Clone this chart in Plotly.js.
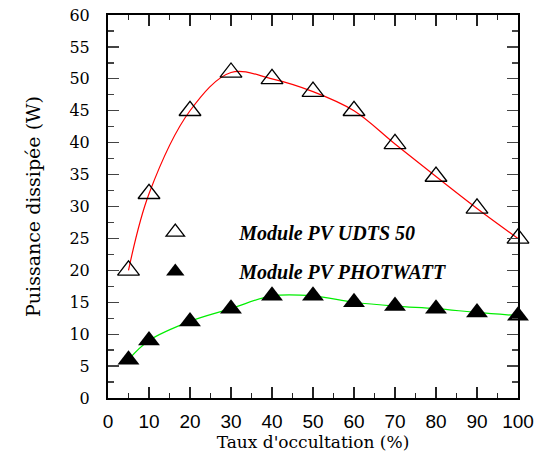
<!DOCTYPE html>
<html>
<head>
<meta charset="utf-8">
<script src="https://cdn.plot.ly/plotly-3.0.1.min.js"></script>
<style>
html,body{margin:0;padding:0;background:#fff;}
#chart{width:536px;height:458px;}
</style>
</head>
<body>
<div id="chart"></div>
<script>
const occultation = [5, 10, 20, 30, 40, 50, 60, 70, 80, 90, 100];
const udts50 = [20, 32, 45, 51, 50, 48, 45, 39.8, 34.7, 29.7, 25];
const photwatt = [6, 9, 12, 14, 16, 16, 15, 14.4, 14, 13.4, 12.9];
const nameUdts = 'Module PV UDTS 50';
const namePhot = 'Module PV PHOTWATT';

const SERIF = '"Liberation Serif", "Times New Roman", Times, serif';
const WIDESERIF = '"DejaVu Serif", serif';
const SANS = '"Liberation Sans", Arial, Helvetica, sans-serif';

const traces = [
  {x: occultation, y: udts50, mode: 'lines', line: {color: '#ff0000', width: 1.2, shape: 'spline', smoothing: 1}, showlegend: false, hoverinfo: 'skip'},
  {x: occultation, y: photwatt, mode: 'lines', line: {color: '#00ee00', width: 1.2, shape: 'spline', smoothing: 1}, showlegend: false, hoverinfo: 'skip'},
  {x: occultation, y: udts50, mode: 'markers', name: nameUdts, legend: 'legend',
   marker: {symbol: 'triangle-up-open', size: 19, color: '#000', line: {width: 1.3, color: '#000'}}, cliponaxis: false},
  {x: occultation, y: photwatt, mode: 'markers', name: namePhot, legend: 'legend2',
   marker: {symbol: 'triangle-up', size: 19, color: '#000', line: {width: 0}}, cliponaxis: false}
];

const legendCommon = {
  bgcolor: 'rgba(0,0,0,0)', borderwidth: 0, itemwidth: 118,
  font: {family: SERIF, size: 20, color: '#000', weight: 'bold', style: 'italic'},
  xanchor: 'left', yanchor: 'middle'
};

const layout = {
  width: 536, height: 458,
  margin: {l: 108, r: 18, t: 15, b: 60},
  paper_bgcolor: '#fff', plot_bgcolor: '#fff',
  font: {family: WIDESERIF, color: '#000'},
  showlegend: true,
  legend: Object.assign({}, legendCommon, {x: 0.008, y: 0.433}),
  legend2: Object.assign({}, legendCommon, {x: 0.008, y: 0.330}),
  xaxis: {
    range: [0, 100], tick0: 0, dtick: 10, showgrid: false, zeroline: false,
    showline: true, linecolor: '#000', linewidth: 2, mirror: 'allticks',
    ticks: 'inside', ticklen: 11, tickwidth: 1.3, tickcolor: '#222',
    minor: {dtick: 5, ticks: 'inside', ticklen: 5, tickwidth: 1.3, tickcolor: '#222'},
    tickfont: {family: SANS, size: 19, color: '#000'},
    ticklabelstandoff: 5,
    title: {text: "Taux d'occultation (%)", font: {family: WIDESERIF, size: 17, color: '#000'}, standoff: 1}
  },
  yaxis: {
    range: [0, 60], tick0: 0, dtick: 5, showgrid: false, zeroline: false,
    showline: true, linecolor: '#000', linewidth: 2, mirror: 'allticks',
    ticks: 'inside', ticklen: 11, tickwidth: 1.3, tickcolor: '#444',
    minor: {dtick: 2.5, ticks: 'inside', ticklen: 6, tickwidth: 1.3, tickcolor: '#444'},
    tickfont: {family: WIDESERIF, size: 16, color: '#000'},
    ticklabelstandoff: 13,
    title: {text: 'Puissance dissipée (W)', font: {family: WIDESERIF, size: 19, color: '#000'}, standoff: 24}
  }
};

Plotly.newPlot('chart', traces, layout, {displayModeBar: false, staticPlot: true});
</script>
</body>
</html>
